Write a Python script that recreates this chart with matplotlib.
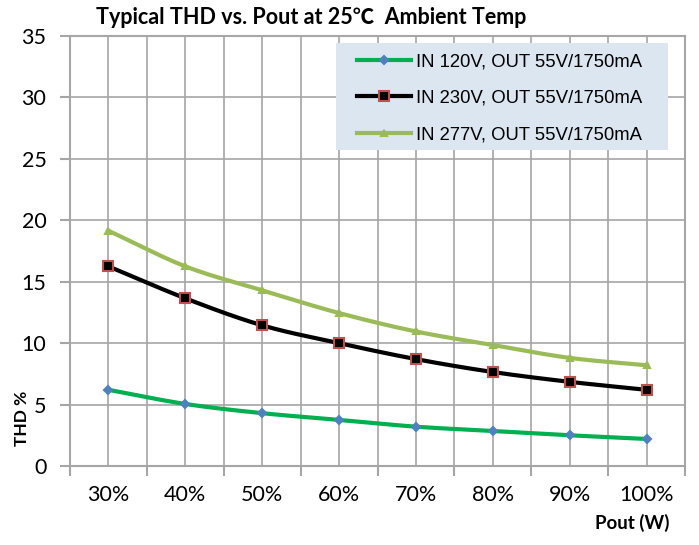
import numpy as np
import matplotlib
matplotlib.use("Agg")
import matplotlib.pyplot as plt
from matplotlib.lines import Line2D
from matplotlib.patches import Rectangle

categories = ["30%", "40%", "50%", "60%", "70%", "80%", "90%", "100%"]
thd_120 = [6.2, 5.05, 4.3, 3.75, 3.2, 2.85, 2.5, 2.2]
thd_230 = [16.25, 13.65, 11.45, 10.0, 8.7, 7.65, 6.85, 6.2]
thd_277 = [19.15, 16.25, 14.3, 12.45, 10.95, 9.85, 8.8, 8.2]
series_labels = ["IN 120V, OUT 55V/1750mA", "IN 230V, OUT 55V/1750mA", "IN 277V, OUT 55V/1750mA"]
yticks = [0, 5, 10, 15, 20, 25, 30, 35]


def smooth(xs, ys, n=20):
    xs = np.asarray(xs, float); ys = np.asarray(ys, float)
    px = np.concatenate([[2 * xs[0] - xs[1]], xs, [2 * xs[-1] - xs[-2]]])
    py = np.concatenate([[2 * ys[0] - ys[1]], ys, [2 * ys[-1] - ys[-2]]])
    ox, oy = [], []
    t = np.linspace(0, 1, n, endpoint=False)
    for i in range(1, len(px) - 2):
        for p, o in ((px, ox), (py, oy)):
            p0, p1, p2, p3 = p[i - 1], p[i], p[i + 1], p[i + 2]
            v = 0.5 * ((2 * p1) + (-p0 + p2) * t + (2 * p0 - 5 * p1 + 4 * p2 - p3) * t ** 2
                       + (-p0 + 3 * p1 - 3 * p2 + p3) * t ** 3)
            o.extend(v)
    ox.append(xs[-1]); oy.append(ys[-1])
    return np.array(ox), np.array(oy)


W, H = 699, 545
fig = plt.figure(figsize=(W / 100, H / 100), dpi=100)
ax = fig.add_axes([70 / W, 1 - 466 / H, 615 / W, 430 / H])

x = np.arange(len(categories))
grid_c = "#a6a6a6"

styles = [
    dict(data=thd_120, color="#00b050", marker="D", ms=4.5, mfc="#4f81bd", mec="#4f81bd"),
    dict(data=thd_230, color="#000000", marker="s", ms=7, mfc="#000000", mec="#c0504d"),
    dict(data=thd_277, color="#9bbb59", marker="^", ms=4.5, mfc="#9bbb59", mec="#9bbb59"),
]
handles = []
for st, lab in zip(styles, series_labels):
    sx, sy = smooth(x, st["data"])
    ax.plot(sx, sy, color=st["color"], lw=3, solid_capstyle="round", zorder=3)
    ax.plot(x, st["data"], ls="none", marker=st["marker"], ms=st["ms"], mfc=st["mfc"],
            mec=st["mec"], mew=1.5, zorder=4)
    handles.append(Line2D([], [], color=st["color"], lw=3, marker=st["marker"], ms=st["ms"],
                          mfc=st["mfc"], mec=st["mec"], mew=1.5))

ax.set_xlim(-0.5, len(categories) - 0.5)
ax.set_ylim(0, 35)
ax.set_yticks(yticks)
ax.set_yticklabels([str(v) for v in yticks], fontsize=15.5, family="Lato")
ax.set_xticks(np.arange(-0.5, len(categories), 1.0))
ax.set_xticklabels([])
ax.set_xticks(x, minor=True)
ax.set_xticklabels(categories, minor=True, fontsize=15.5, family="Lato")
ax.tick_params(axis="x", which="major", length=7, width=1.5, color=grid_c, direction="out")
ax.tick_params(axis="x", which="minor", length=0, pad=14)
ax.tick_params(axis="y", length=7, width=1.5, color=grid_c, direction="out", pad=10)
ax.grid(True, which="both", color=grid_c, lw=1.2, zorder=0)
ax.set_axisbelow(True)
for s in ax.spines.values():
    s.set_color(grid_c)
    s.set_linewidth(1.5)

# legend background box
bg = Rectangle((336 / W, 1 - 150 / H), (668 - 336) / W, (150 - 43) / H, transform=fig.transFigure,
               facecolor="#dce6f1", edgecolor="none", zorder=5, clip_on=False)
ax.add_patch(bg)
leg = ax.legend(handles, series_labels, loc="upper left", bbox_to_anchor=(357 / W, 1 - 53.5 / H),
                bbox_transform=fig.transFigure, frameon=False,
                prop={"family": "Liberation Sans", "size": 13.3}, handlelength=2.9,
                labelspacing=1.05, borderpad=0, handletextpad=0.3, borderaxespad=0)
leg.set_zorder(6)

fig.text(311 / W, 1 - 18 / H, "Typical THD vs. Pout at 25\u2103  Ambient Temp", ha="center", va="center",
         fontsize=15.5, fontweight="bold", family=["Lato", "Noto Sans CJK SC"])
fig.text(22 / W, 1 - 418 / H, "THD %", rotation=90, ha="center", va="center",
         fontsize=12.5, fontweight="bold", family="Lato")
fig.text(632 / W, 1 - 523 / H, "Pout (W)", ha="center", va="center",
         fontsize=13.5, fontweight="bold", family="Lato")

fig.savefig("out.png", dpi=100)
